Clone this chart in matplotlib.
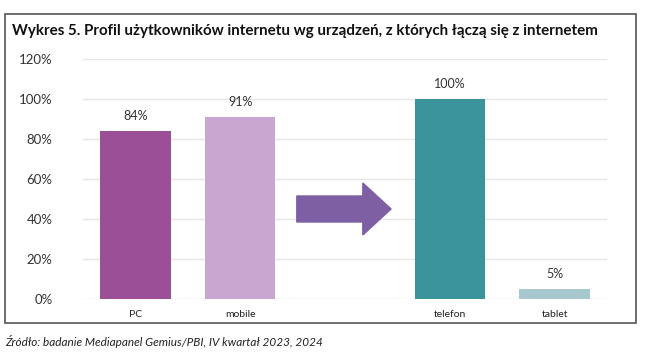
import numpy as np
import matplotlib.pyplot as plt
import matplotlib.patches as mpatches

categories = ['PC', 'mobile', '', 'telefon', 'tablet']
values = [84, 91, None, 100, 5]
colors = ['#9b4f96', '#c9a6cf', None, '#3b939c', '#a8c8cf']
yticks = [0, 20, 40, 60, 80, 100, 120]

W, H = 655, 362
fig = plt.figure(figsize=(W / 100, H / 100), dpi=100)
plt.rcParams['font.family'] = ['Lato', 'DejaVu Sans']

# outer frame
fig.patches.append(mpatches.Rectangle((5 / W, 39 / H), 631 / W, 309 / H, transform=fig.transFigure,
                                      fill=False, edgecolor='#555555', linewidth=1.2))
fig.text(12 / W, 1 - 31 / H, 'Wykres 5. Profil użytkowników internetu wg urządzeń, z których łączą się z internetem',
         fontsize=10.9, fontweight='bold', va='center', ha='left', color='#111111')
fig.text(5 / W, 1 - 341 / H, 'Źródło: badanie Mediapanel Gemius/PBI, IV kwartał 2023, 2024',
         fontsize=8.5, style='italic', va='center', ha='left', color='#222222')

ax = fig.add_axes([83 / W, 63 / H, 524 / W, 240 / H])
x = np.arange(len(categories))
for i, v in enumerate(values):
    if v is None:
        continue
    ax.bar(x[i], v, width=0.67, color=colors[i], zorder=3)
    ax.text(x[i], v + 4.5, f'{v}%', ha='center', va='bottom', fontsize=9, color='#333333')

ax.add_patch(mpatches.FancyArrow(1.54, 45, 0.9, 0, width=13, head_width=26, head_length=0.27,
                                 length_includes_head=True, color='#7f5fa3', zorder=3))

ax.set_xlim(-0.5, len(categories) - 0.5)
ax.set_ylim(0, 120)
ax.set_yticks(yticks)
ax.set_yticklabels([f'{t}%' for t in yticks], fontsize=9.5, color='#333333')
ax.set_xticks(x)
ax.set_xticklabels(categories, fontsize=7.5, color='#222222')
ax.tick_params(length=0, pad=8)
ax.tick_params(axis='y', pad=22)
ax.grid(axis='y', color='#e6e6e6', linewidth=1, zorder=0)
for s in ax.spines.values():
    s.set_visible(False)

plt.savefig('out.png', dpi=100)
